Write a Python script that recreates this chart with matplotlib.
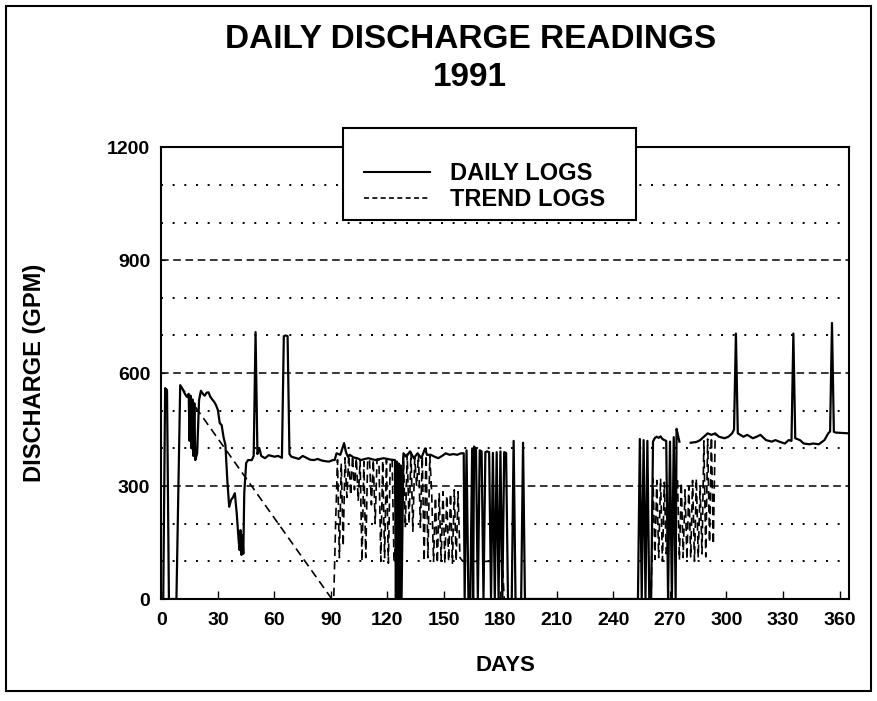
import matplotlib
matplotlib.use("Agg")
import matplotlib.pyplot as plt
import numpy as np
from matplotlib.lines import Line2D
from matplotlib.patches import Rectangle

plt.rcParams["font.family"] = ["Liberation Sans", "DejaVu Sans"]
plt.rcParams["font.weight"] = "bold"

NAN = np.nan

# daily log readings (day of year, discharge gpm)
daily_days = [
    1, 2, 3, 4, 8, 10, 11.5, 12.5, 13.5, 14.5, 15, 15.5, 16, 16.5, 17, 17.5, 18, 19,
    20, 21, 22, 23, 24, 25, 26, 27, 28, 29, 30, 31, 32, 33, 34, 35, 36, 37, 38, 39,
    40, 41, 41.5, 42, 42.5, 43, 43.5, 44, 45, 46, 48, 49, 50, 51, 52, 53, 55, 57,
    60, 62, 64, 65, 66, 67, 68, 69, 71, 73, 75, 77, 79, 81, 83, 85, 87, 89, 91, 92,
    93, 95, 97, 98, 99, 100, 102, 104, 106, 108, 110, 112, 114, 116, 118, 120, 122,
    124, 124.5, 125, 125.5, 126, 126.5, 127, 127.5, 128.5, 130, 132, 134, 136, 138,
    140, 141, 143, 145, 147, 149, 151, 153, 155, 157, 159, 160.5,
    161, 162, 163, 164, 165, 165.5, 166, 167, 168, 169, 170, 171, 172, 173, 174,
    175, 176, 177, 178, 179, 180, 181, 182, 183, 184, 186, 187, 188, 191, 192, 193,
    253, 254, 255, 256, 257, 258, 259, 260, 261, 262, 263, 264, 265, 266, 267, 268,
    269, 270, 271, 272, 273, 273.5, 274, 275, 276,
    281, 284, 286, 288, 290, 292, 294, 296, 299, 301, 303, 304, 305, 306, 309, 311,
    314, 316, 318, 321, 324, 326, 328, 331, 333, 334.5, 335.5, 336.5, 339, 341, 344,
    346, 349, 352, 354, 355, 356, 357, 358, 365,
]
daily_gpm = [
    0, 560, 555, 0, 0, 568, 555, 545, 537, 545, 420, 540, 400, 530, 380, 520, 369, 387,
    528, 553, 545, 540, 548, 549, 537, 530, 524, 515, 502, 467, 462, 430, 409, 316, 245, 263, 270, 281,
    228, 157, 130, 183, 117, 170, 120, 281, 361, 369, 369, 380, 709, 385, 401, 380, 374, 382,
    378, 380, 375, 698, 700, 698, 385, 378, 375, 372, 380, 375, 370, 369, 372, 368, 366, 365, 369, 369,
    387, 383, 414, 390, 378, 383, 376, 374, 369, 372, 374, 371, 369, 372, 374, 372, 370,
    369, 0, 365, 0, 360, 0, 355, 0, 387, 378, 392, 374, 387, 374,
    400, 383, 383, 378, 374, 380, 387, 383, 385, 383, 387, 387,
    0, 395, 0, 0, 400, 0, 405, 398, 0, 395, 392, 0, 390, 392, 390,
    0, 388, 0, 390, 0, 392, 0, 390, 388, 0, 0, 420, 0, 0, 415, 0,
    0, 425, 0, 422, 0, 420, 0, 0, 418, 428, 431, 428, 432, 425, 422, 420,
    0, 418, 0, 430, 0, 452, 440, 418, NAN,
    415, 417, 422, 431, 440, 436, 440, 431, 427, 431, 440, 450, 705, 440, 431, 436,
    427, 431, 436, 422, 418, 422, 418, 413, 422, 420, 705, 427, 422, 413, 411,
    413, 411, 422, 440, 445, 733, 444, 442, 440,
]

# trend log readings (day of year, discharge gpm)
trend_days = [
    10, 90.5, 91.5, 92.5, 93.5, 94.5, 95.5, 96.5, 97.5, 98.5, 99.5, 100.5, 101.5,
    102.5, 103.5, 104.5, 105.5, 106.5, 107.5, 108.5, 109.5, 110.5, 111.5, 112.5,
    113.5, 114.5, 115.5, 116.5, 117.5, 118.5, 119.5, 120.5, 121.5, 122.5, 123.5,
    128.5, 129.5, 130.5, 131.5, 132.5, 133.5, 134.5, 135.5, 136.5, 137.5, 138.5,
    139.5, 140.5, 141.5, 142.5, 143.5, 144.5, 145.5, 146.5, 147.5, 148.5, 149.5,
    150.5, 151.5, 152.5, 153.5, 154.5, 155.5, 156.5, 157.5, 158.5, 160, 181, 182,
    260, 261, 262, 263, 264, 265, 266, 267, 268, 274, 275, 276, 277, 278, 279, 280,
    281, 282, 283, 284, 285, 286, 287, 288, 289, 290, 291, 292, 293, 294, 295,
]
trend_gpm = [
    567, 0, 0, 200, 370, 110, 360, 140, 375, 270, 385, 275, 380,
    290, 375, 260, 370, 100, 365, 110, 372, 370, 250, 370,
    200, 372, 370, 100, 368, 110, 370, 95, 370, 370, 100,
    380, 190, 385, 200, 390, 180, 375, 300, 385, 190, 380,
    100, 400, 110, 380, 280, 100, 270, 95, 280, 100, 285,
    95, 275, 100, 280, 95, 290, 100, 285, 110, 100, 100, 0,
    0, 320, 105, 315, 110, 320, 100, 310, 120, 314, 104, 310, 110, 290, 105, 300,
    110, 315, 100, 320, 110, 300, 120, 420, 112, 425, 150, 430, 145, 435, 436,
]

fig = plt.figure(figsize=(8.77, 7.01), dpi=100)
ax = fig.add_axes([0.184, 0.1455, 0.784, 0.6445])

ax.plot(daily_days, daily_gpm, color="black", linewidth=1.6, zorder=3)
ax.plot(trend_days, trend_gpm, color="black", linewidth=1.2,
        linestyle=(0, (5, 3)), zorder=2)

ax.set_xlim(0, 365)
ax.set_ylim(0, 1200)
ax.set_xticks(range(0, 361, 30))
ax.set_yticks(range(0, 1201, 300))
ax.set_yticks(range(0, 1201, 100), minor=True)
ax.grid(which="major", axis="y", color="black", linewidth=1.1, linestyle=(0, (5, 3)))
ax.grid(which="minor", axis="y", color="black", linewidth=1.4, linestyle=(0, (1, 5)))
ax.tick_params(axis="x", direction="in", length=6, width=1, pad=9, labelsize=14)
ax.tick_params(axis="y", which="major", direction="in", length=3, pad=8, labelsize=14)
ax.tick_params(axis="y", which="minor", length=0)
for spine in ax.spines.values():
    spine.set_linewidth(1.5)

ax.set_xlabel("DAYS", fontsize=16, fontweight="bold", labelpad=19)
ax.set_ylabel("DISCHARGE (GPM)", fontsize=17, fontweight="bold", labelpad=44)

fig.text(0.536, 0.943, "DAILY DISCHARGE READINGS", ha="center", va="center",
         fontsize=24, fontweight="bold")
fig.text(0.536, 0.889, "1991", ha="center", va="center",
         fontsize=24, fontweight="bold")

# legend box
fig.patches.append(Rectangle((343 / 877, 1 - 220 / 701), 293 / 877, 92 / 701,
                             transform=fig.transFigure, facecolor="white",
                             edgecolor="black", linewidth=1.5, zorder=5))
handles = [
    Line2D([], [], color="black", linewidth=1.5),
    Line2D([], [], color="black", linewidth=1.2, linestyle=(0, (3, 2))),
]
leg = fig.legend(handles, ["DAILY LOGS", "TREND LOGS"], loc="upper left",
                 bbox_to_anchor=(352 / 877, 1 - 150 / 701), frameon=False,
                 prop={"size": 17, "weight": "bold"}, handlelength=2.8,
                 handletextpad=0.85, labelspacing=0.15, borderpad=0)
leg.set_zorder(6)

# outer frame around the whole chart
fig.patches.append(Rectangle((6 / 877, 1 - 691 / 701), 865 / 877, 685 / 701,
                             transform=fig.transFigure, fill=False,
                             edgecolor="black", linewidth=1.5, zorder=0))

fig.savefig("out.png", dpi=100)
